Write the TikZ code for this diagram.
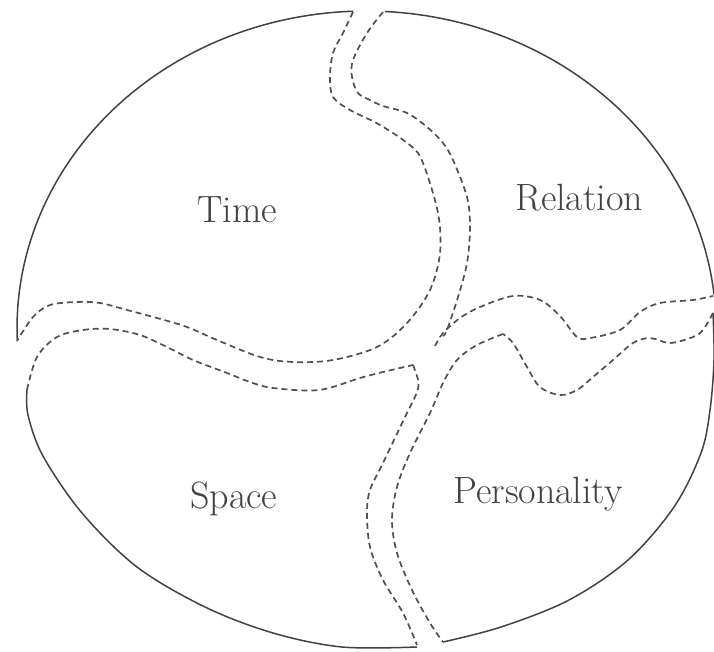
\documentclass[tikz,border=0pt]{standalone}
\usetikzlibrary{positioning}
\definecolor{ink}{HTML}{424242}
\definecolor{seamink}{HTML}{505050}

\begin{document}
\begin{tikzpicture}[x=1pt, y=-1pt,
    rim/.style={line width=1.5pt, draw=ink, line join=round},
    seam/.style={line width=1.7pt, draw=seamink, dash pattern=on 6pt off 4pt},
    lab/.style={font=\fontsize{38}{44}\selectfont, text=ink, inner sep=0pt, anchor=base west},
]
\useasboundingbox (0,0) rectangle (714,652);

% time: upper left piece
\draw[rim] plot[domain=182.3:92.1, samples=60] ({366+349*cos(\x)}, {328-317*sin(\x)});
\draw[seam] plot[smooth, tension=0.55] coordinates {(353,12) (343,33) (333,53) (330,77) (333,97) (350,110) (380,125) (411,146) (423,163) (438,213) (440,253) (430,290) (407,323) (377,347) (333,360) (293,362) (260,357) (217,340) (187,327) (157,318) (127,310) (100,303) (77,302) (50,305) (33,317) (17,341)};
\node[lab] (time) at (197,223) {Time};

% relation: upper right piece
\draw[rim] plot[domain=86.9:6, samples=60] ({366+350*cos(\x)}, {328-317*sin(\x)});
\draw[seam] plot[smooth, tension=0.55] coordinates {(383,12) (367,33) (353,60) (352,77) (358,93) (370,100) (383,106) (407,113) (427,127) (443,143) (453,160) (467,197) (470,227) (467,263) (458,297) (447,330) (443,336)};
\draw[seam] plot[smooth, tension=0.55] coordinates {(435,346) (443,333) (460,318) (480,307) (513,296) (540,300) (560,316) (577,337) (590,338) (620,330) (640,312) (660,303) (693,300) (713,296)};
\node[lab] (relation) at (515,211) {Relation};

% personality: lower right piece
\draw[rim] plot[smooth, tension=0.55] coordinates {(443,642) (501,627) (569,600) (628,560) (674,507) (701,453) (710,410) (714,360) (713,313)};
\draw[seam] plot[smooth, tension=0.55] coordinates {(713,313) (703,330) (693,337) (670,343) (650,338) (633,343) (613,360) (593,377) (577,390) (560,395) (540,387) (527,367) (513,343) (503,334)};
\draw[seam] plot[smooth, tension=0.55] coordinates {(503,334) (477,345) (457,360) (443,383) (430,413) (410,453) (397,487) (392,520) (397,553) (412,590) (430,623) (443,642)};
\node[lab] (personality) at (453,503) {Personality};

% space: lower left piece
\draw[rim] plot[smooth, tension=0.55] coordinates {(27,390) (28,415) (43,456) (82,513) (137,567) (205,607) (273,633) (342,647) (417,647)};
\draw[seam] plot[smooth, tension=0.55] coordinates {(27,390) (37,357) (57,337) (83,330) (110,329) (140,335) (167,347) (193,360) (227,373) (250,382) (273,388) (319,390) (360,378) (383,372) (413,365)};
\draw[seam] plot[smooth, tension=0.55] coordinates {(413,365) (418,380) (417,392) (405,417) (383,463) (370,490) (367,513) (370,547) (383,580) (403,613) (417,645)};
\node[lab] (space) at (190,508) {Space};
\end{tikzpicture}
\end{document}
